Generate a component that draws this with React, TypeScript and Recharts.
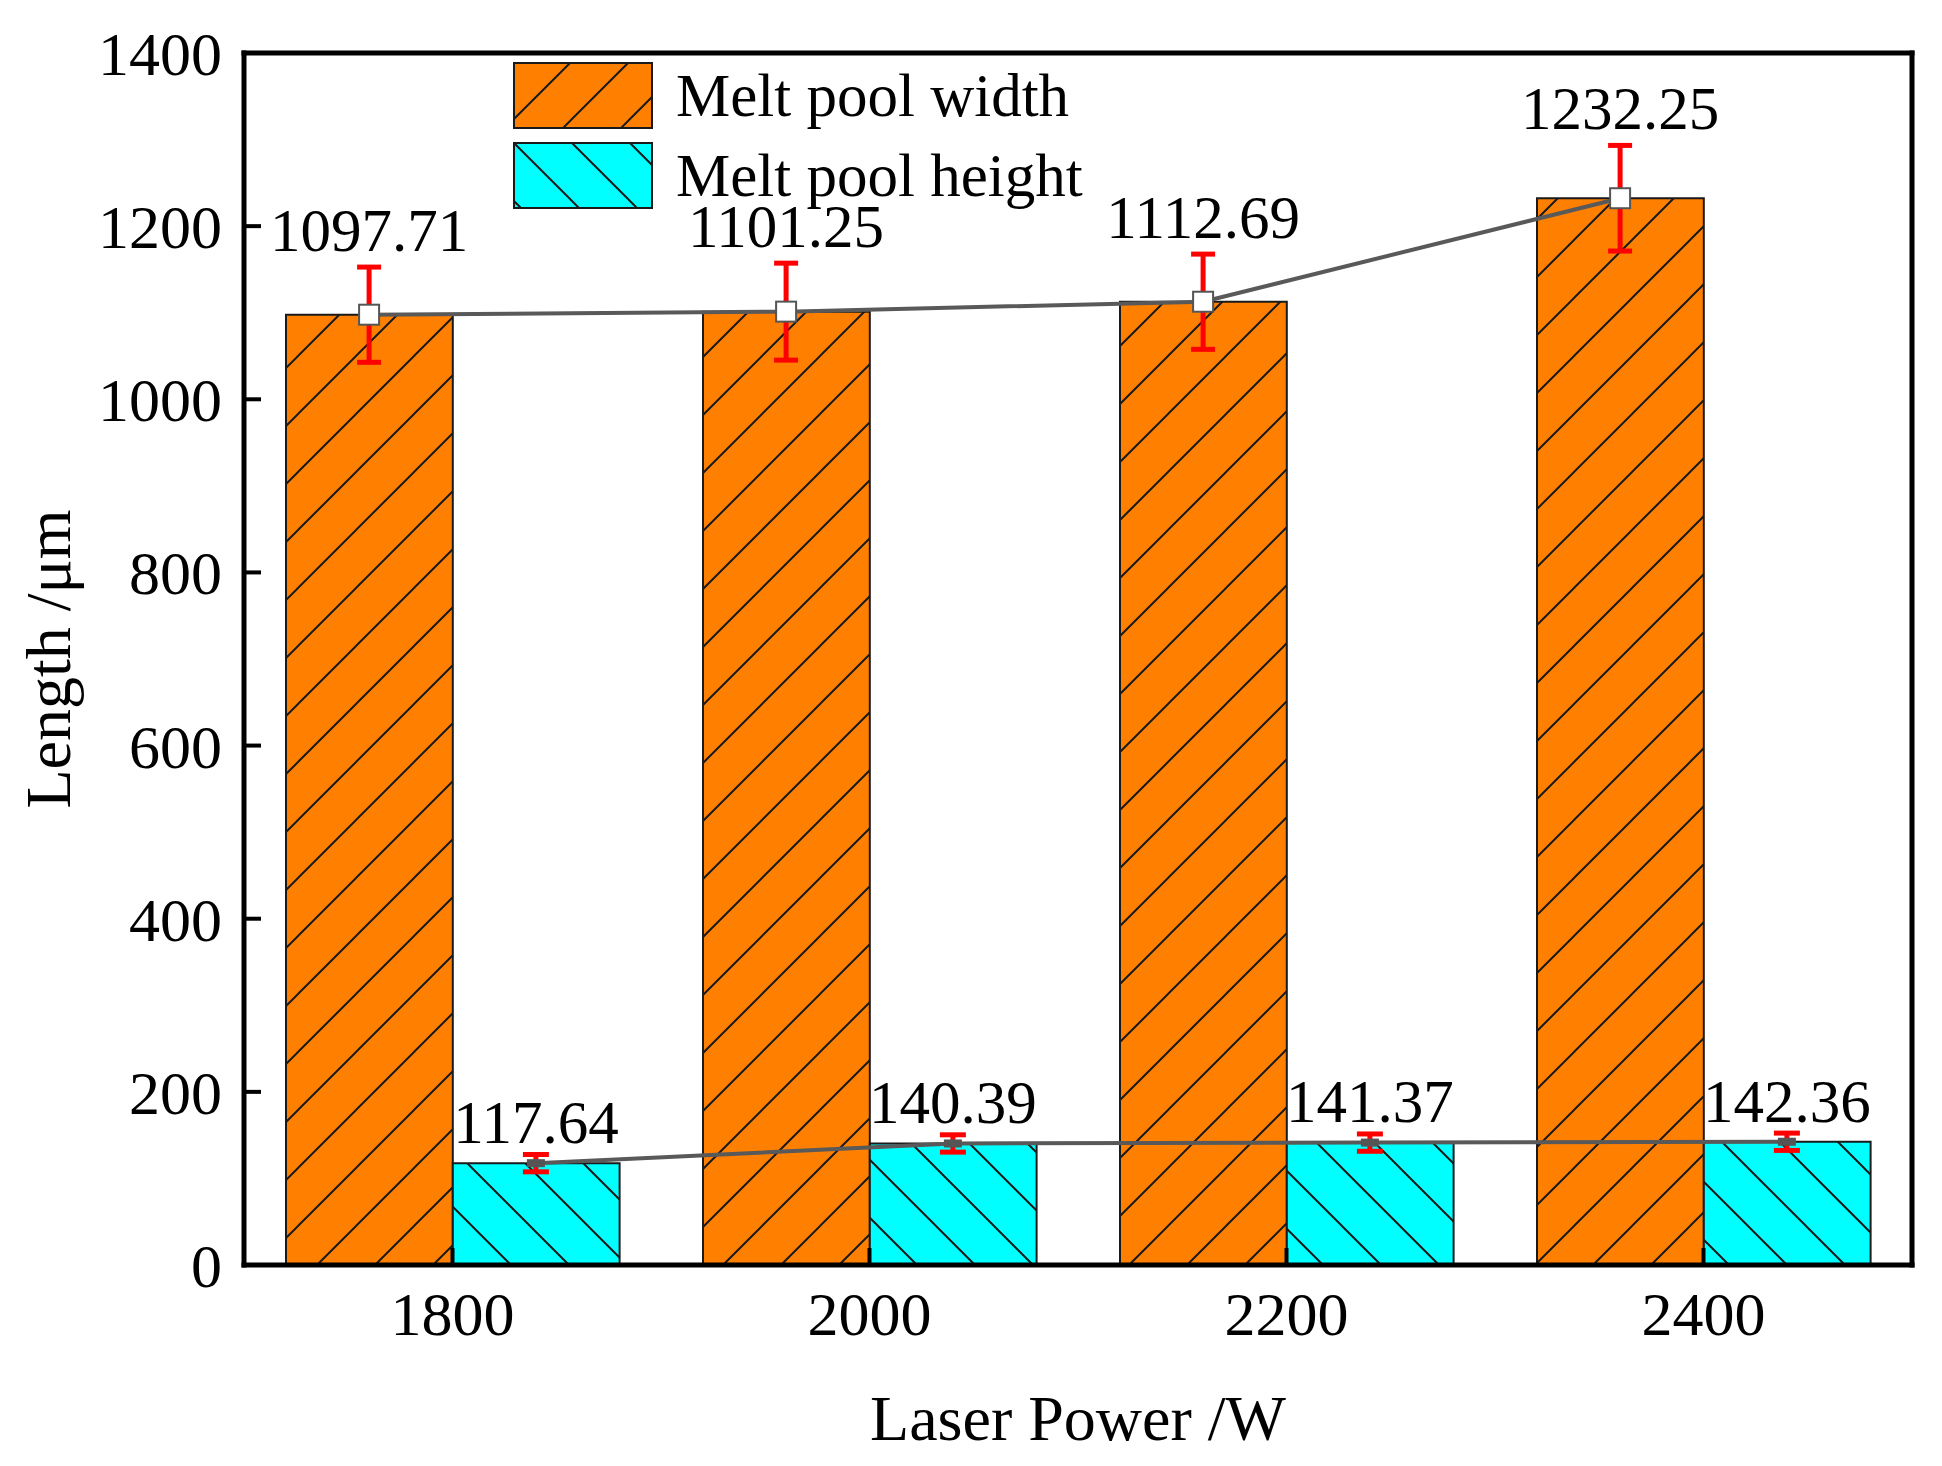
import React from "react";
import {
    ComposedChart,
    Bar,
    Scatter,
    XAxis,
    YAxis,
    ErrorBar,
    LabelList,
    Legend,
    ReferenceLine,
    Label,
} from "recharts";

const FONT = '"Liberation Serif", "Times New Roman", Times, serif';

// values
const powers = [1800, 2000, 2200, 2400];
const widthVals = [1097.71, 1101.25, 1112.69, 1232.25];
const widthErr = [55, 56, 55, 61];
const heightVals = [117.64, 140.39, 141.37, 142.36];
const heightErr = [10, 10, 10, 10];
const yTicks = [0, 200, 400, 600, 800, 1000, 1200, 1400];

const X_DOMAIN = [1700, 2500];
const BAR_W = 80; // width of one bar, in W

const CHART_W = 1926;
const CHART_H = 1450;
const MARGIN = { top: 45, right: 22, left: 0, bottom: 0 };
const Y_AXIS_W = 236;
const X_AXIS_H = 193;
const plotW = CHART_W - MARGIN.left - MARGIN.right - Y_AXIS_W;
const barSize = (BAR_W * plotW) / (X_DOMAIN[1] - X_DOMAIN[0]);

const barData = powers.map((p, i) => ({
    power: p,
    width: widthVals[i],
    height: heightVals[i],
}));

// points sit on the middle of each bar
const widthPts = powers.map((p, i) => ({
    power: p - BAR_W / 2,
    value: widthVals[i],
    err: widthErr[i],
}));
const heightPts = powers.map((p, i) => ({
    power: p + BAR_W / 2,
    value: heightVals[i],
    err: heightErr[i],
}));
const widthTops = widthPts.map((d) => ({
    power: d.power,
    top: d.value + d.err,
    label: d.value.toFixed(2),
}));
const heightTops = heightPts.map((d) => ({
    power: d.power,
    top: d.value + d.err,
    label: d.value.toFixed(2),
}));

const LEGEND_ORDER = ["width", "height"];
const FILLS: Record<string, string> = {
    width: "url(#hatchW)",
    height: "url(#hatchH)",
};

const WhiteSquare = (props: any) => {
    const { cx, cy } = props;
    return (
        <rect
            x={cx - 10}
            y={cy - 10}
            width={20}
            height={20}
            fill="#ffffff"
            stroke="#555555"
            strokeWidth={2}
        />
    );
};

const GreyMark = (props: any) => {
    const { cx, cy } = props;
    return <rect x={cx - 9} y={cy - 4} width={18} height={8} fill="#555555" />;
};

const Nothing = () => <g />;

const renderLegend = (props: any) => {
    const items = LEGEND_ORDER.map((k) =>
        (props.payload || []).find((e: any) => e.dataKey === k)
    ).filter(Boolean);
    return (
        <svg width={620} height={150}>
            {items.map((e: any, i: number) => (
                <g key={e.dataKey} transform={`translate(0, ${i * 80})`}>
                    <rect
                        x={1}
                        y={1}
                        width={138}
                        height={65}
                        fill={FILLS[e.dataKey]}
                        stroke="#1a1a1a"
                        strokeWidth={2}
                    />
                    <text
                        x={163}
                        y={54}
                        fontSize={61}
                        fontFamily={FONT}
                        fill="#000"
                    >
                        {e.value}
                    </text>
                </g>
            ))}
        </svg>
    );
};

const YTitle = (props: any) => {
    const vb = props.viewBox || { x: 0, y: MARGIN.top, width: Y_AXIS_W, height: 1212 };
    const cy = vb.y + vb.height / 2;
    return (
        <text
            transform={`translate(${vb.x + 62}, ${cy}) rotate(-90)`}
            textAnchor="middle"
            fontSize={64}
            fontFamily={FONT}
            fill="#000"
        >
            Length /μm
        </text>
    );
};

const XTitle = (props: any) => {
    const vb = props.viewBox || { x: Y_AXIS_W, y: CHART_H - X_AXIS_H, width: plotW, height: X_AXIS_H };
    return (
        <text
            x={vb.x + vb.width / 2}
            y={vb.y + 175}
            textAnchor="middle"
            fontSize={64}
            fontFamily={FONT}
            fill="#000"
        >
            Laser Power /W
        </text>
    );
};

export default function App() {
    return (
        <div style={{ width: CHART_W, height: CHART_H }}>
            <ComposedChart
                width={CHART_W}
                height={CHART_H}
                data={barData}
                margin={MARGIN}
                barGap={0}
            >
                <defs>
                    <pattern id="hatchW" patternUnits="userSpaceOnUse" width={58} height={58}>
                        <rect width={58} height={58} fill="#ff8000" />
                        <path
                            d="M0,58 L58,0 M-15,15 L15,-15 M43,73 L73,43"
                            stroke="#1a1a1a"
                            strokeWidth={2}
                        />
                    </pattern>
                    <pattern id="hatchH" patternUnits="userSpaceOnUse" width={58} height={58}>
                        <rect width={58} height={58} fill="#00ffff" />
                        <path
                            d="M0,0 L58,58 M-15,43 L15,73 M43,-15 L73,15"
                            stroke="#1a1a1a"
                            strokeWidth={2}
                        />
                    </pattern>
                </defs>

                <XAxis
                    type="number"
                    dataKey="power"
                    domain={X_DOMAIN}
                    ticks={powers}
                    allowDataOverflow
                    height={X_AXIS_H}
                    axisLine={{ stroke: "#000", strokeWidth: 5, strokeLinecap: "square" }}
                    tickLine={{ stroke: "#000", strokeWidth: 4 }}
                    tickSize={-17}
                    tickMargin={43}
                    tick={{ fontSize: 62, fill: "#000", fontFamily: FONT }}
                >
                    <Label content={XTitle} />
                </XAxis>
                <XAxis
                    xAxisId="pts"
                    type="number"
                    dataKey="power"
                    domain={X_DOMAIN}
                    allowDataOverflow
                    hide
                />
                <YAxis
                    type="number"
                    domain={[0, 1400]}
                    ticks={yTicks}
                    allowDataOverflow
                    width={Y_AXIS_W}
                    axisLine={{ stroke: "#000", strokeWidth: 5, strokeLinecap: "square" }}
                    tickLine={{ stroke: "#000", strokeWidth: 4 }}
                    tickSize={-17}
                    tickMargin={39}
                    tick={{ fontSize: 62, fill: "#000", fontFamily: FONT }}
                >
                    <Label content={YTitle} />
                </YAxis>

                <ReferenceLine y={1400} stroke="#000" strokeWidth={5} strokeLinecap="square" />
                <ReferenceLine x={2500} stroke="#000" strokeWidth={5} strokeLinecap="square" />

                <Bar
                    dataKey="width"
                    name="Melt pool width"
                    fill="url(#hatchW)"
                    stroke="#1a1a1a"
                    strokeWidth={2}
                    barSize={barSize}
                    isAnimationActive={false}
                />
                <Bar
                    dataKey="height"
                    name="Melt pool height"
                    fill="url(#hatchH)"
                    stroke="#1a1a1a"
                    strokeWidth={2}
                    barSize={barSize}
                    isAnimationActive={false}
                />

                <Scatter
                    xAxisId="pts"
                    data={widthPts}
                    dataKey="value"
                    legendType="none"
                    line={{ stroke: "#595959", strokeWidth: 4 }}
                    lineType="joint"
                    shape={WhiteSquare}
                    isAnimationActive={false}
                >
                    <ErrorBar
                        dataKey="err"
                        direction="y"
                        width={12}
                        stroke="#ff0000"
                        strokeWidth={5}
                        isAnimationActive={false}
                    />
                </Scatter>
                <Scatter
                    xAxisId="pts"
                    data={heightPts}
                    dataKey="value"
                    legendType="none"
                    line={{ stroke: "#595959", strokeWidth: 4 }}
                    lineType="joint"
                    shape={GreyMark}
                    isAnimationActive={false}
                >
                    <ErrorBar
                        dataKey="err"
                        direction="y"
                        width={13}
                        stroke="#ff0000"
                        strokeWidth={5}
                        isAnimationActive={false}
                    />
                </Scatter>

                <Scatter
                    xAxisId="pts"
                    data={widthTops}
                    dataKey="top"
                    legendType="none"
                    shape={Nothing}
                    isAnimationActive={false}
                >
                    <LabelList
                        dataKey="label"
                        position="top"
                        offset={12}
                        fill="#000"
                        fontSize={61}
                        fontFamily={FONT}
                    />
                </Scatter>
                <Scatter
                    xAxisId="pts"
                    data={heightTops}
                    dataKey="top"
                    legendType="none"
                    shape={Nothing}
                    isAnimationActive={false}
                >
                    <LabelList
                        dataKey="label"
                        position="top"
                        offset={7}
                        fill="#000"
                        fontSize={61}
                        fontFamily={FONT}
                    />
                </Scatter>

                <Legend
                    layout="vertical"
                    align="center"
                    verticalAlign="middle"
                    content={renderLegend}
                    wrapperStyle={{ left: 505, top: 54, width: 620 }}
                />
            </ComposedChart>
        </div>
    );
}
